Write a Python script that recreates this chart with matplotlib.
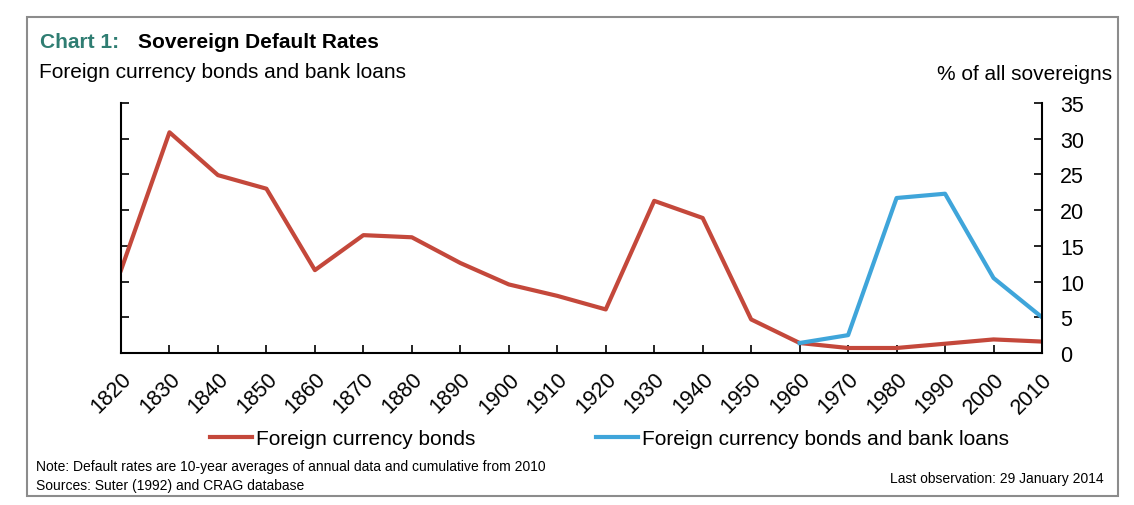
import matplotlib.pyplot as plt
from matplotlib.patches import Rectangle
from matplotlib.lines import Line2D

plt.rcParams['font.family'] = ['Liberation Sans', 'DejaVu Sans']

years = [1820, 1830, 1840, 1850, 1860, 1870, 1880, 1890, 1900, 1910, 1920,
         1930, 1940, 1950, 1960, 1970, 1980, 1990, 2000, 2010]
bonds = [11.6, 30.9, 24.9, 23.0, 11.6, 16.5, 16.2, 12.6, 9.6, 8.0, 6.1,
         21.3, 18.9, 4.7, 1.4, 0.7, 0.7, 1.3, 1.9, 1.6]
loan_years = [1960, 1970, 1980, 1990, 2000, 2010]
bonds_loans = [1.4, 2.5, 21.7, 22.3, 10.5, 5.0]

red = '#c4483b'
blue = '#3fa5da'

fig = plt.figure(figsize=(11.34, 5.06), dpi=100)
fig.patches.append(Rectangle((27 / 1134, 1 - 497 / 506), 1091 / 1134, 479 / 506,
                             transform=fig.transFigure, fill=False,
                             edgecolor='#8c8c8c', linewidth=1.5))

ax = fig.add_axes([121 / 1134, 1 - 354 / 506, 921 / 1134, 250 / 506])
ax.plot(years, bonds, color=red, linewidth=3)
ax.plot(loan_years, bonds_loans, color=blue, linewidth=3)

ax.set_xlim(1820, 2010)
ax.set_ylim(0, 35)
ax.set_xticks(years)
ax.set_xticklabels([str(y) for y in years], rotation=45, ha='right',
                   rotation_mode='anchor', fontsize=15.5)
ax.set_yticks(range(0, 36, 5))
ax.yaxis.tick_right()
ax.tick_params(axis='y', which='both', left=True, right=True, direction='in',
               length=6, width=1.2, labelsize=15.5, pad=13, labelleft=False, labelright=True)
ax.tick_params(axis='x', direction='in', length=6, width=1.2, pad=11)
ax.spines['top'].set_visible(False)
for s in ['left', 'right', 'bottom']:
    ax.spines[s].set_linewidth(1.5)

fig.text(40 / 1134, 1 - 43 / 506, 'Chart 1:', color='#2f7d72', fontsize=15,
         fontweight='bold', va='center')
fig.text(138 / 1134, 1 - 43 / 506, 'Sovereign Default Rates', fontsize=15,
         fontweight='bold', va='center')
fig.text(39 / 1134, 1 - 72 / 506, 'Foreign currency bonds and bank loans',
         fontsize=15, va='center')
fig.text(1112 / 1134, 1 - 75 / 506, '% of all sovereigns', fontsize=15,
         va='center', ha='right')

handles = [Line2D([], [], color=red, linewidth=3),
           Line2D([], [], color=blue, linewidth=3)]
fig.legend(handles, ['Foreign currency bonds', 'Foreign currency bonds and bank loans'],
           loc='center', bbox_to_anchor=(0.5375, 1 - 440 / 506), ncol=2,
           frameon=False, fontsize=15, handlelength=2.0, handletextpad=0.2,
           columnspacing=5.8)

fig.text(36 / 1134, 1 - 467 / 506,
         'Note: Default rates are 10-year averages of annual data and cumulative from 2010',
         fontsize=10, va='center')
fig.text(36 / 1134, 1 - 486 / 506, 'Sources: Suter (1992) and CRAG database',
         fontsize=10, va='center')
fig.text(1104 / 1134, 1 - 479 / 506, 'Last observation: 29 January 2014',
         fontsize=10, va='center', ha='right')

fig.savefig('out.png', dpi=100)
